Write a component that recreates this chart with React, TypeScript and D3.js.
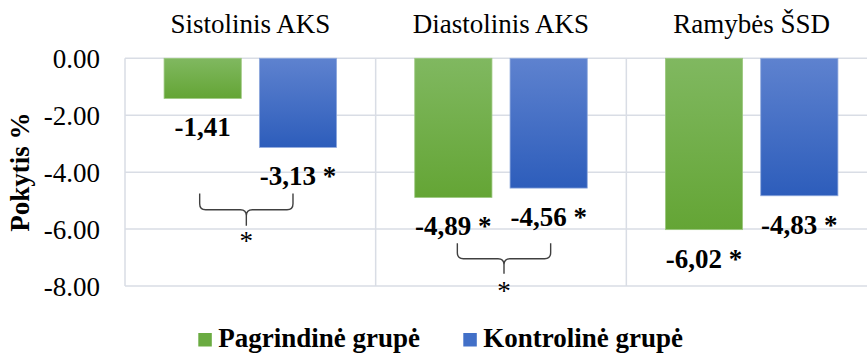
import React from "react";
import * as d3 from "d3";

const categories = ["Sistolinis AKS", "Diastolinis AKS", "Ramybės ŠSD"];
const seriesNames = ["Pagrindinė grupė", "Kontrolinė grupė"];
const mainValues = [-1.41, -4.89, -6.02];
const controlValues = [-3.13, -4.56, -4.83];
const mainSignificant = [false, true, true];
const controlSignificant = [true, true, true];
const yTicks = [0, -2, -4, -6, -8];
const yTitle = "Pokytis %";

// between-group comparison braces (in data units)
const braceCategories = ["Sistolinis AKS", "Diastolinis AKS"];
const braceTop = [-4.75, -6.5];
const braceMid = [-5.32, -7.04];
const braceTip = [-5.88, -7.57];
const braceStar = [-6.29, -8.06];
const braceShift = [-4, 3];

const W = 867;
const H = 353;
const FONT = "'Liberation Serif', 'Times New Roman', serif";

const f2 = d3.format(".2f");
const hyphen = (s: string) => s.replace("\u2212", "-");

export default function App() {
  const x0 = d3.scaleBand<string>().domain(categories).range([125, 877]).padding(0);
  const x1 = d3
    .scaleBand<string>()
    .domain(seriesNames)
    .range([0, x0.bandwidth()])
    .paddingInner(0.19)
    .paddingOuter(0.41);
  const y = d3.scaleLinear().domain([-8, 0]).range([286, 58.3]);

  const series = [
    { name: seriesNames[0], values: mainValues, sig: mainSignificant, grad: "gGreen", legend: "#6aab41" },
    { name: seriesNames[1], values: controlValues, sig: controlSignificant, grad: "gBlue", legend: "#4270c8" },
  ];

  const fmt = (v: number) => hyphen(f2(v)).replace(".", ",");

  const gridColor = "#d9dde5";

  const bracePath = (xa: number, xb: number, top: number, mid: number, tip: number) => {
    const cx = (xa + xb) / 2;
    const r = 6;
    return [
      `M${xa},${top} V${mid - r} Q${xa},${mid} ${xa + r},${mid} H${cx - r} Q${cx},${mid} ${cx},${mid + r} V${tip}`,
      `M${xb},${top} V${mid - r} Q${xb},${mid} ${xb - r},${mid} H${cx + r} Q${cx},${mid} ${cx},${mid + r}`,
    ].join(" ");
  };

  return (
    <div style={{ position: "absolute", left: 0, top: 0 }}>
      <svg width={W} height={H} style={{ display: "block", fontFamily: FONT }}>
        <defs>
          <linearGradient id="gGreen" x1="0" y1="0" x2="0" y2="1">
            <stop offset="0" stopColor="#80b860" />
            <stop offset="1" stopColor="#64a535" />
          </linearGradient>
          <linearGradient id="gBlue" x1="0" y1="0" x2="0" y2="1">
            <stop offset="0" stopColor="#5e82cf" />
            <stop offset="1" stopColor="#2d5dbb" />
          </linearGradient>
        </defs>
        <rect width={W} height={H} fill="#fff" />

        {/* horizontal gridlines */}
        {yTicks.map((t) => (
          <line key={"h" + t} x1={125} x2={877} y1={y(t)} y2={y(t)} stroke={gridColor} strokeWidth={1.5} />
        ))}
        {/* vertical category separators */}
        {[...categories.map((c) => x0(c)!), 877].map((xv, i) => (
          <line key={"v" + i} x1={xv} x2={xv} y1={y(0)} y2={y(-8)} stroke={gridColor} strokeWidth={1.5} />
        ))}

        {/* y tick labels */}
        {yTicks.map((t) => (
          <text key={"t" + t} x={100} y={y(t) + 10} textAnchor="end" fontSize={27} fill="#000">
            {hyphen(f2(t))}
          </text>
        ))}

        {/* y title */}
        <text
          transform={`translate(29,${(y(0) + y(-8)) / 2}) rotate(-90)`}
          textAnchor="middle"
          fontSize={27}
          fontWeight="bold"
          fill="#000"
        >
          {yTitle}
        </text>

        {/* category titles */}
        {categories.map((c) => (
          <text key={c} x={x0(c)! + x0.bandwidth() / 2} y={33} textAnchor="middle" fontSize={27} fill="#000">
            {c}
          </text>
        ))}

        {/* bars */}
        {series.map((s) =>
          categories.map((c, i) => {
            const bx = x0(c)! + x1(s.name)!;
            const v = s.values[i];
            return (
              <g key={s.name + c}>
                <rect
                  x={bx}
                  y={y(0)}
                  width={x1.bandwidth()}
                  height={y(v) - y(0)}
                  fill={`url(#${s.grad})`}
                  stroke={s.grad === "gBlue" ? "#8ea8dc" : "#9cc87f"}
                  strokeWidth={0.8}
                />
                <text
                  x={bx + x1.bandwidth() / 2}
                  y={y(v) + 38}
                  textAnchor="middle"
                  fontSize={27}
                  fontWeight="bold"
                  fill="#000"
                >
                  {fmt(v) + (s.sig[i] ? " *" : "")}
                </text>
              </g>
            );
          })
        )}

        {/* braces */}
        {braceCategories.map((c, i) => {
          const gc = x0(c)! + x1(seriesNames[0])! + x1.bandwidth() / 2;
          const bc = x0(c)! + x1(seriesNames[1])! + x1.bandwidth() / 2;
          const half = (bc - gc - 2) / 2;
          const cx = x0(c)! + x0.bandwidth() / 2 + braceShift[i];
          return (
            <g key={"b" + c}>
              <path
                d={bracePath(cx - half, cx + half, y(braceTop[i]), y(braceMid[i]), y(braceTip[i]))}
                fill="none"
                stroke="#404040"
                strokeWidth={1.4}
              />
              <text x={cx} y={y(braceStar[i]) + 12.7} textAnchor="middle" fontSize={27} fill="#000">
                *
              </text>
            </g>
          );
        })}

        {/* legend */}
        <rect x={198.3} y={333} width={13.5} height={13.5} fill={series[0].legend} />
        <text x={218.3} y={346.7} fontSize={27} fontWeight="bold" fill="#000">
          {seriesNames[0]}
        </text>
        <rect x={463.3} y={333} width={13.5} height={13.5} fill={series[1].legend} />
        <text x={483.3} y={346.7} fontSize={27} fontWeight="bold" fill="#000">
          {seriesNames[1]}
        </text>
      </svg>
    </div>
  );
}
